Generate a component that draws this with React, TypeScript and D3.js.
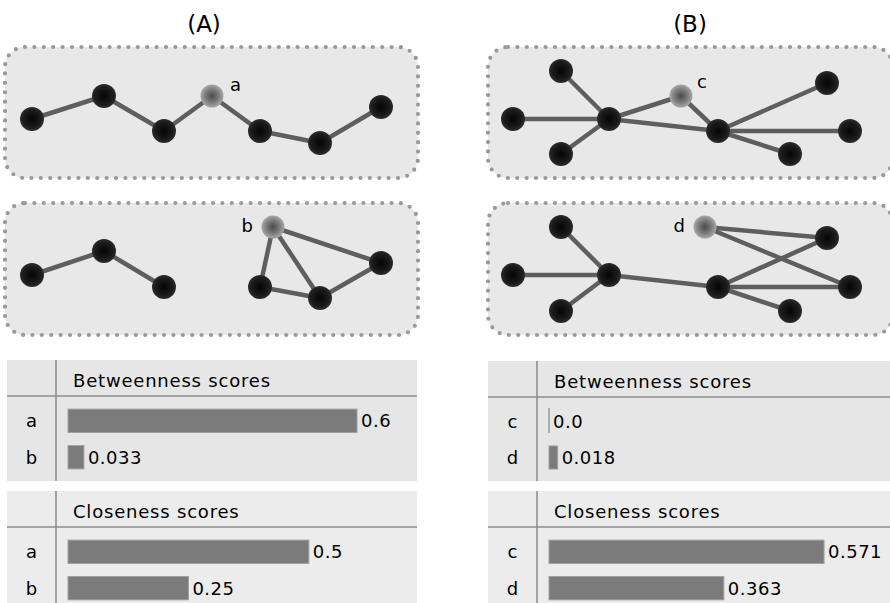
import * as React from 'react';
import * as d3 from 'd3';

// network layouts (offsets inside each dotted box, px) and edges
const nodesA1: any[] = [
	{ id: 'n1', x: 27, y: 72 },
	{ id: 'n2', x: 99, y: 49 },
	{ id: 'n3', x: 159, y: 84 },
	{ id: 'a', x: 207, y: 49, focus: true },
	{ id: 'n5', x: 255, y: 84 },
	{ id: 'n6', x: 315, y: 96 },
	{ id: 'n7', x: 376, y: 60 }
];
const edgesA1 = [['n1', 'n2'], ['n2', 'n3'], ['n3', 'a'], ['a', 'n5'], ['n5', 'n6'], ['n6', 'n7']];

const nodesA2: any[] = [
	{ id: 'm1', x: 27, y: 72 },
	{ id: 'm2', x: 99, y: 48 },
	{ id: 'm3', x: 159, y: 84 },
	{ id: 'b', x: 268, y: 24, focus: true },
	{ id: 'm5', x: 255, y: 84 },
	{ id: 'm6', x: 315, y: 95 },
	{ id: 'm7', x: 376, y: 60 }
];
const edgesA2 = [['m1', 'm2'], ['m2', 'm3'], ['b', 'm5'], ['b', 'm6'], ['b', 'm7'], ['m5', 'm6'], ['m6', 'm7']];

const nodesB1: any[] = [
	{ id: 'l1', x: 73, y: 24 },
	{ id: 'l2', x: 25, y: 72 },
	{ id: 'l3', x: 73, y: 107 },
	{ id: 'h1', x: 121, y: 72 },
	{ id: 'c', x: 193, y: 49, focus: true },
	{ id: 'h2', x: 230, y: 84 },
	{ id: 'r1', x: 339, y: 36 },
	{ id: 'r2', x: 362, y: 84 },
	{ id: 'r3', x: 302, y: 107 }
];
const edgesB1 = [['l1', 'h1'], ['l2', 'h1'], ['l3', 'h1'], ['h1', 'c'], ['c', 'h2'], ['h1', 'h2'], ['h2', 'r1'], ['h2', 'r2'], ['h2', 'r3']];

const nodesB2: any[] = [
	{ id: 'l1', x: 73, y: 24 },
	{ id: 'l2', x: 25, y: 72 },
	{ id: 'l3', x: 73, y: 108 },
	{ id: 'h1', x: 121, y: 72 },
	{ id: 'd', x: 217, y: 24, focus: true },
	{ id: 'h2', x: 230, y: 84 },
	{ id: 'r1', x: 339, y: 35 },
	{ id: 'r2', x: 362, y: 84 },
	{ id: 'r3', x: 302, y: 108 }
];
const edgesB2 = [['l1', 'h1'], ['l2', 'h1'], ['l3', 'h1'], ['h1', 'h2'], ['d', 'r1'], ['d', 'r2'], ['h2', 'r1'], ['h2', 'r2'], ['h2', 'r3']];

// scores
const keysA = ['a', 'b'];
const keysB = ['c', 'd'];
const betweennessA = [0.6, 0.033];
const closenessA = [0.5, 0.25];
const betweennessB = [0.0, 0.018];
const closenessB = [0.571, 0.363];
const labelsBetweennessA = ['0.6', '0.033'];
const labelsClosenessA = ['0.5', '0.25'];
const labelsBetweennessB = ['0.0', '0.018'];
const labelsClosenessB = ['0.571', '0.363'];

const FONT = '"DejaVu Sans", sans-serif';

function Network(props: any) {
	const { x0, y0, w, h, nodes, edges, label, labelDx, labelDy, anchor } = props;
	const x = d3.scaleLinear().domain([0, w]).range([x0, x0 + w]);
	const y = d3.scaleLinear().domain([0, h]).range([y0, y0 + h]);
	const byId: any = {};
	nodes.forEach((n: any) => (byId[n.id] = n));
	const focus = nodes.find((n: any) => n.focus);
	return (
		<g>
			<rect x={x0} y={y0} width={w} height={h} rx={20} ry={20} fill="#e8e8e8" stroke="#999"
				strokeWidth={4.2} strokeDasharray="0 9.4" strokeLinecap="round" />
			{edges.map((e: any, i: number) => (
				<line key={i} x1={x(byId[e[0]].x)} y1={y(byId[e[0]].y)} x2={x(byId[e[1]].x)} y2={y(byId[e[1]].y)}
					stroke="#5e5e5e" strokeWidth={4.5} />
			))}
			{nodes.map((n: any) => (
				<circle key={n.id} cx={x(n.x)} cy={y(n.y)} r={n.focus ? 11.5 : 12}
					fill={n.focus ? 'url(#greyNode)' : 'url(#blackNode)'} />
			))}
			<text x={x(focus.x) + labelDx} y={y(focus.y) + labelDy} textAnchor={anchor} fontFamily={FONT}
				fontSize={18} fill="#000">{label}</text>
		</g>
	);
}

function ScoreTable(props: any) {
	const { x0, x1, divider, top, line, bottom, title, keys, values, labels, bg } = props;
	const xs = d3.scaleLinear().domain([0, 0.6]).range([divider + 12, divider + 12 + 289]);
	const ys = d3.scaleBand().domain(keys).range([line, bottom + 1]).padding(0.36);
	return (
		<g>
			<rect x={x0} y={top} width={x1 - x0} height={Math.min(bottom, 603) - top} fill={bg} />
			<line x1={x0} x2={x1} y1={line} y2={line} stroke="#8e8e8e" strokeWidth={1.5} />
			<line x1={divider} x2={divider} y1={top} y2={bottom} stroke="#8a8a8a" strokeWidth={1.5} />
			<text x={divider + 17} y={line - 9} fontFamily={FONT} fontSize={18} letterSpacing={0.8} fill="#000">{title}</text>
			{keys.map((k: string, i: number) => {
				const yy = ys(k) as number;
				const bw = ys.bandwidth();
				const barW = xs(values[i]) - xs(0);
				return (
					<g key={k}>
						<text x={(x0 + divider) / 2} y={yy + bw / 2} dy="0.35em" textAnchor="middle" fontFamily={FONT}
							fontSize={18} fill="#000">{k}</text>
						{barW > 0 ? (
							<rect x={xs(0)} y={yy} width={barW} height={bw} fill="#7b7b7b"
								stroke="#a0a0a0" strokeWidth={1} />
						) : (
							<line x1={xs(0)} x2={xs(0)} y1={yy - 2} y2={yy + bw} stroke="#999" strokeWidth={1.5} />
						)}
						<text x={xs(values[i]) + 4} y={yy + bw / 2} dy="0.36em" fontFamily={FONT} fontSize={18}
							letterSpacing={0.5} fill="#000">{labels[i]}</text>
					</g>
				);
			})}
		</g>
	);
}

export default function App() {
	return (
		<svg width={890} height={603} viewBox="0 0 890 603"
			style={{ position: 'absolute', left: 0, top: 0, background: '#fff' }}>
			<defs>
				<radialGradient id="blackNode">
					<stop offset="0%" stopColor="#050505" />
					<stop offset="75%" stopColor="#1c1c1c" />
					<stop offset="100%" stopColor="#2e2e2e" />
				</radialGradient>
				<radialGradient id="greyNode">
					<stop offset="0%" stopColor="#4a4a4a" />
					<stop offset="60%" stopColor="#7e7e7e" />
					<stop offset="100%" stopColor="#a8a8a8" />
				</radialGradient>
			</defs>
			<text x={204} y={32} textAnchor="middle" fontFamily={FONT} fontSize={23} fill="#000">(A)</text>
			<text x={690} y={32} textAnchor="middle" fontFamily={FONT} fontSize={23} fill="#000">(B)</text>

			<Network x0={5} y0={47} w={413} h={131} nodes={nodesA1} edges={edgesA1} label="a" labelDx={18} labelDy={-5} anchor="start" />
			<Network x0={5} y0={203} w={413} h={132} nodes={nodesA2} edges={edgesA2} label="b" labelDx={-20} labelDy={5} anchor="end" />
			<Network x0={488} y0={47} w={405} h={131} nodes={nodesB1} edges={edgesB1} label="c" labelDx={16} labelDy={-8} anchor="start" />
			<Network x0={488} y0={203} w={405} h={132} nodes={nodesB2} edges={edgesB2} label="d" labelDx={-20} labelDy={5} anchor="end" />

			<ScoreTable x0={7} x1={417} divider={56} top={360} line={396} bottom={481} title="Betweenness scores"
				keys={keysA} values={betweennessA} labels={labelsBetweennessA} bg="#e6e6e6" />
			<ScoreTable x0={7} x1={417} divider={56} top={491} line={527} bottom={612} title="Closeness scores"
				keys={keysA} values={closenessA} labels={labelsClosenessA} bg="#ececec" />
			<ScoreTable x0={488} x1={890} divider={537} top={361} line={397} bottom={481} title="Betweenness scores"
				keys={keysB} values={betweennessB} labels={labelsBetweennessB} bg="#e6e6e6" />
			<ScoreTable x0={488} x1={890} divider={537} top={491} line={527} bottom={612} title="Closeness scores"
				keys={keysB} values={closenessB} labels={labelsClosenessB} bg="#ececec" />
		</svg>
	);
}
